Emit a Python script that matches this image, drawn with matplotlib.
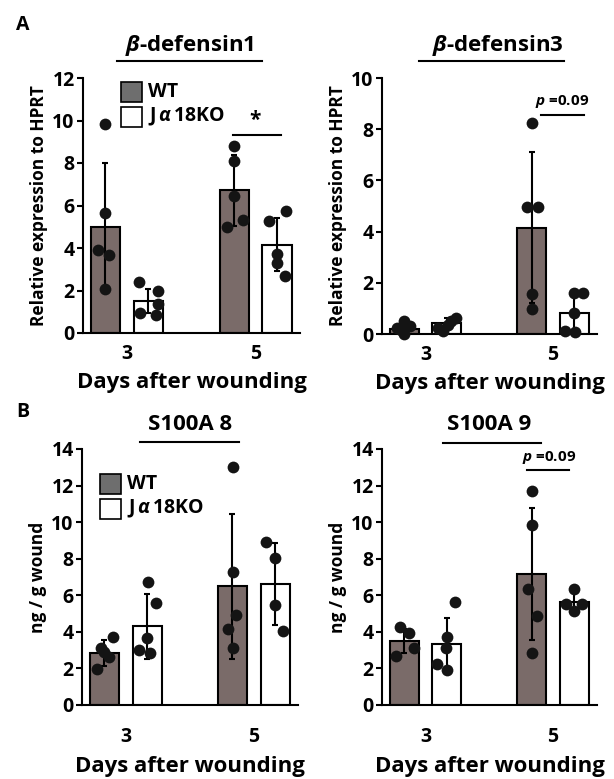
import numpy as np
import matplotlib
matplotlib.use("Agg")
import matplotlib.pyplot as plt
from matplotlib.patches import Rectangle
from matplotlib.lines import Line2D

plt.rcParams['font.family'] = ['Open Sans', 'DejaVu Sans']
plt.rcParams['font.weight'] = 'bold'
plt.rcParams['axes.labelweight'] = 'bold'
plt.rcParams['mathtext.fontset'] = 'custom'
plt.rcParams['mathtext.rm'] = 'Open Sans:bold'
plt.rcParams['mathtext.it'] = 'Open Sans:italic:bold'
plt.rcParams['mathtext.bf'] = 'Open Sans:bold'

days = ['3', '5']
groups = ['WT', r'J$\,\alpha\,$18KO']

# beta-defensin1 (relative expression to HPRT)
bd1_wt_mean = [5.0, 6.72]
bd1_wt_sd = [3.0, 1.68]
bd1_ko_mean = [1.5, 4.15]
bd1_ko_sd = [0.57, 1.25]
bd1_wt_pts = [[9.85, 5.65, 3.9, 3.65, 2.05], [8.78, 8.08, 6.46, 4.97, 5.3]]
bd1_ko_pts = [[2.38, 1.96, 1.38, 0.94, 0.86], [5.29, 5.73, 3.73, 3.29, 2.70]]

# beta-defensin3
bd3_wt_mean = [0.2, 4.15]
bd3_wt_sd = [0.15, 2.95]
bd3_ko_mean = [0.42, 0.82]
bd3_ko_sd = [0.2, 0.8]
bd3_wt_pts = [[0.49, 0.32, 0.17, 0.0, 0.23], [8.25, 4.97, 4.97, 1.57, 0.97]]
bd3_ko_pts = [[0.23, 0.1, 0.49, 0.62, 0.36], [0.1, 0.06, 0.82, 1.6, 1.62]]

# S100A8 (ng / g wound)
a8_wt_mean = [2.85, 6.49]
a8_wt_sd = [0.72, 3.95]
a8_ko_mean = [4.3, 6.62]
a8_ko_sd = [1.78, 2.25]
a8_wt_pts = [[1.95, 3.1, 2.65, 3.74, 2.9], [13.0, 7.3, 4.93, 4.14, 3.1]]
a8_ko_pts = [[6.7, 5.57, 3.65, 3.01, 2.83], [8.94, 8.03, 5.47, 4.07]]

# S100A9
a9_wt_mean = [3.5, 7.15]
a9_wt_sd = [0.65, 3.6]
a9_ko_mean = [3.34, 5.65]
a9_ko_sd = [1.42, 0.5]
a9_wt_pts = [[4.29, 3.96, 3.1, 2.68], [11.68, 9.85, 6.35, 4.89, 2.86]]
a9_ko_pts = [[5.66, 3.7, 3.1, 2.24, 1.92], [6.35, 5.51, 5.51, 5.16]]

# horizontal scatter of the dots (pixels from bar centre), style only
jit = {
    'bd1': ([[0, 0, -7, 4, 0], [0, 0, 0, -7, 9]], [[-9, 10, 10, -8, 8], [-8, 9, 0, 0, 8]]),
    'bd3': ([[0, 6, -3, 0, -7], [0, -5, 6, 0, 0]], [[-9, -4, 4, 9, 1], [-9, 1, 0, 0, 9]]),
    'a8': ([[-7, -3, 5, 9, 0], [1, 1, 4, -4, 1]], [[1, 9, 0, -8, 3], [-9, 0, 0, 8]]),
    'a9': ([[-4, 5, 10, -8], [0, 0, -4, 5, 0]], [[8, 0, -1, -10, 0], [0, -8, 8, 0]]),
}

W, H = 614, 779
PX = 128.5          # pixels per x unit
OFF = 0.167
BW = 0.226
WT_COLOR = '#7a6b69'


def fpx(x, y):
    return x / W, 1 - y / H


def draw_panel(ax, wt_mean, wt_sd, ko_mean, ko_sd, wt_pts, ko_pts, jitter, ymax, ylabel):
    x = np.arange(2)
    sets = [(-OFF, wt_mean, wt_sd, wt_pts, jitter[0], WT_COLOR),
            (OFF, ko_mean, ko_sd, ko_pts, jitter[1], 'white')]
    for pos, mean, sd, pts, jj, color in sets:
        ax.bar(x + pos, mean, width=BW, color=color, edgecolor='black',
               linewidth=1.5, zorder=2)
        ax.errorbar(x + pos, mean, yerr=sd, fmt='none', ecolor='black',
                    elinewidth=1.5, capsize=2.5, capthick=1.5, zorder=3)
        for i in range(2):
            xs = x[i] + pos + np.array(jj[i]) / PX
            ax.scatter(xs, pts[i], s=72, color='#141414', zorder=4,
                       clip_on=False, linewidths=0)
    ax.set_xlim(-0.342, 1.346)
    ax.set_ylim(0, ymax)
    ax.set_yticks(np.arange(0, ymax + 1, 2))
    ax.set_xticks(x)
    ax.set_xticklabels(days)
    for s in ['top', 'right']:
        ax.spines[s].set_visible(False)
    for s in ['left', 'bottom']:
        ax.spines[s].set_linewidth(1.5)
    ax.tick_params(axis='y', length=4, width=1.5, pad=2, labelsize=14)
    ax.tick_params(axis='x', length=0, labelsize=14)
    ax.set_ylabel(ylabel, fontsize=12.5, labelpad=3)
    ax.set_xlabel('Days after wounding', fontsize=16)


fig = plt.figure(figsize=(W / 100, H / 100), dpi=100)

axA1 = fig.add_axes([83 / W, 1 - 333 / H, 217 / W, 255 / H])
axA2 = fig.add_axes([382 / W, 1 - 334 / H, 215 / W, 256 / H])
axB1 = fig.add_axes([82 / W, 1 - 705 / H, 216 / W, 256 / H])
axB2 = fig.add_axes([382 / W, 1 - 705 / H, 215 / W, 256 / H])

draw_panel(axA1, bd1_wt_mean, bd1_wt_sd, bd1_ko_mean, bd1_ko_sd,
           bd1_wt_pts, bd1_ko_pts, jit['bd1'], 12, 'Relative expression to HPRT')
draw_panel(axA2, bd3_wt_mean, bd3_wt_sd, bd3_ko_mean, bd3_ko_sd,
           bd3_wt_pts, bd3_ko_pts, jit['bd3'], 10, 'Relative expression to HPRT')
draw_panel(axB1, a8_wt_mean, a8_wt_sd, a8_ko_mean, a8_ko_sd,
           a8_wt_pts, a8_ko_pts, jit['a8'], 14, 'ng / g wound')
draw_panel(axB2, a9_wt_mean, a9_wt_sd, a9_ko_mean, a9_ko_sd,
           a9_wt_pts, a9_ko_pts, jit['a9'], 14, 'ng / g wound')

for ax in (axA1, axA2):
    ax.tick_params(axis='x', pad=8)
    ax.xaxis.labelpad = 6
for ax in (axB1, axB2):
    ax.tick_params(axis='x', pad=16)
    ax.xaxis.labelpad = 6

# significance marks
axA1.plot([0.825, 1.198], [9.33, 9.33], color='black', lw=1.5, clip_on=False)
axA1.text(1.0, 9.5, '*', ha='center', va='bottom', fontsize=15)
axA2.plot([0.906, 1.242], [8.55, 8.55], color='black', lw=1.5, clip_on=False)
axA2.text(1.07, 9.1, r'$p$ =0.09', ha='center', va='center', fontsize=11)
axB2.plot([0.80, 1.13], [12.86, 12.86], color='black', lw=1.5, clip_on=False)
axB2.text(0.97, 13.55, r'$p$ =0.09', ha='center', va='center', fontsize=11)

# panel titles with underline
titles = [(r'$\beta$-defensin1', 190, 46, 117, 262, 61),
          (r'$\beta$-defensin3', 498, 46, 419, 564, 61),
          ('S100A 8', 190, 425, 140, 239, 442),
          ('S100A 9', 489, 425, 443, 541, 443)]
for txt, tx, ty, l0, l1, ly in titles:
    fig.text(*fpx(tx, ty), txt, ha='center', va='center', fontsize=16)
    fig.add_artist(Line2D([l0 / W, l1 / W], [1 - ly / H, 1 - ly / H],
                          color='black', lw=1.5, transform=fig.transFigure))

# legends
for lx, ly in [(121, 82), (100, 474)]:
    for k, (lab, col) in enumerate(zip(groups, ['#6e6e6e', 'white'])):
        y0 = ly + k * 25
        fig.add_artist(Rectangle(fpx(lx, y0 + 20), 21 / W, 20 / H, facecolor=col,
                                 edgecolor='black', lw=1.2, transform=fig.transFigure))
        fig.text(*fpx(lx + 27, y0 + 10), lab, ha='left', va='center', fontsize=14)

fig.text(*fpx(23, 25), 'A', ha='center', va='center', fontsize=14)
fig.text(*fpx(23, 412), 'B', ha='center', va='center', fontsize=14)

fig.savefig('out.png', dpi=100)
